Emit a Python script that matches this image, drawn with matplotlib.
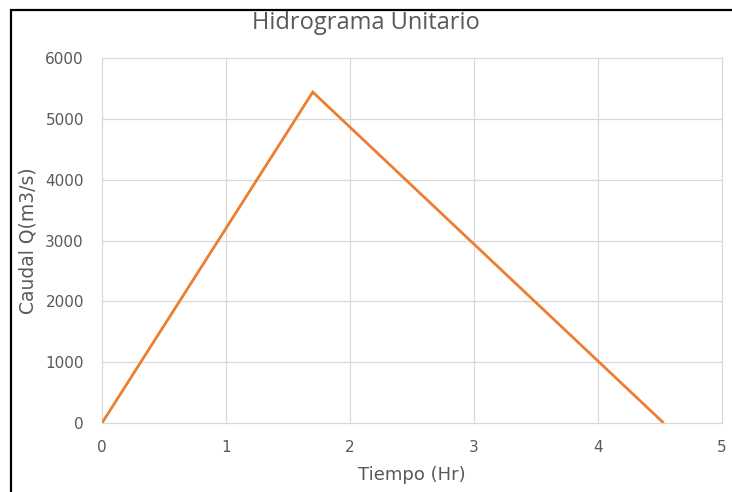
import matplotlib.pyplot as plt
from matplotlib.patches import Rectangle

# hidrograma unitario triangular
tiempo = [0.0, 1.70, 4.53]
caudal = [0.0, 5440.0, 0.0]

x_ticks = [0, 1, 2, 3, 4, 5]
y_ticks = [0, 1000, 2000, 3000, 4000, 5000, 6000]

gris = '#595959'

fig = plt.figure(figsize=(7.32, 4.92), dpi=100)
ax = fig.add_axes([0.1393, 0.1402, 0.8470, 0.7419])

ax.plot(tiempo, caudal, color='#ED7D31', linewidth=2.0,
        solid_joinstyle='miter', solid_capstyle='butt', zorder=3)

ax.set_xlim(0, 5)
ax.set_ylim(0, 6000)
ax.set_xticks(x_ticks)
ax.set_yticks(y_ticks)
ax.grid(True, color='#D9D9D9', linewidth=0.9)
for gl in ax.get_xgridlines() + ax.get_ygridlines():
    gl.set_clip_on(False)
ax.set_axisbelow(True)
for s in ax.spines.values():
    s.set_visible(False)
ax.tick_params(length=0, labelsize=11, labelcolor=gris)
ax.tick_params(axis='x', pad=12)
ax.tick_params(axis='y', pad=13)

ax.set_xlabel('Tiempo (Hr)', fontsize=13, color=gris)
ax.set_ylabel('Caudal Q(m3/s)', fontsize=13.5, color=gris)
ax.xaxis.set_label_coords(0.5, -0.117)
ax.yaxis.set_label_coords(-0.104, 0.5)
fig.text(0.5, 0.954, 'Hidrograma Unitario', ha='center', va='center',
         fontsize=17, color=gris, family='Open Sans')

# marco negro del grafico
fig.patches.append(Rectangle((11 / 732, -0.1), 1.2, 1.1 - 10 / 492,
                             transform=fig.transFigure, fill=False,
                             edgecolor='black', linewidth=1.6))

fig.savefig('out.png', dpi=100)
